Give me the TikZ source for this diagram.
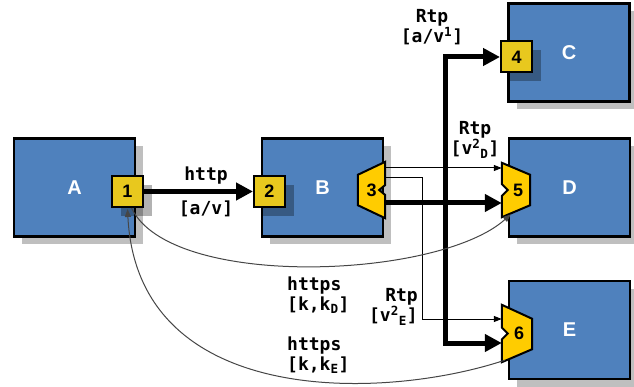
\documentclass[tikz,border=0pt]{standalone}
\usepackage{fontspec}
\setmainfont{Liberation Sans}
\newfontfamily\lblmono{DejaVu Sans Mono}
\usetikzlibrary{arrows.meta,calc}
\definecolor{boxblue}{RGB}{79,129,189}
\definecolor{portyel}{RGB}{232,200,30}
\definecolor{portgold}{RGB}{255,204,0}
\definecolor{curvegray}{RGB}{70,70,70}
\begin{document}
\begin{tikzpicture}[x=1pt,y=-1pt,
  box/.style={draw=black, line width=2.5pt, fill=boxblue, minimum width=121pt, minimum height=98pt,
    inner sep=0pt, text=white, font=\fontsize{20}{24}\selectfont\bfseries,
    preaction={draw=none, fill=black!25, transform canvas={shift={(8pt,-8pt)}}}},
  port/.style={draw=black, line width=2pt, fill=portyel, minimum width=31pt, minimum height=31pt,
    inner sep=0pt, font=\fontsize{18}{20}\selectfont\bfseries,
    preaction={draw=none, fill=black, fill opacity=0.3, transform canvas={shift={(9pt,-9pt)}}}},
  tport/.style={draw=none, inner sep=0pt},
  tshape/.style={draw=black, line width=2pt, fill=portgold, line join=miter},
  pnum/.style={inner sep=0pt, font=\fontsize{18}{20}\selectfont\bfseries},
  thk/.style={draw=black, line width=5pt},
  thkarr/.style={thk, -{Triangle[length=17pt,width=17pt]}},
  thinarr/.style={draw=black, line width=1pt, -{Triangle[length=8pt,width=6pt]}},
  crv/.style={draw=curvegray, line width=1pt, -{Triangle[length=8pt,width=6pt]}},
  lbl/.style={inner sep=0pt, font=\lblmono\bfseries\fontsize{18}{20}\selectfont}
]
\useasboundingbox (0,0) rectangle (634,387);

% boxes
\node[box] (A) at (74.5,187.5) {A};
\node[box] (B) at (322.5,187.5) {B};
\node[box] (C) at (569,52.5) {C};
\node[box] (D) at (569.5,187.5) {D};
\node[box] (E) at (569.5,330) {E};

% square ports
\node[port] (p1) at (127.5,191.5) {1};
\node[port] (p2) at (269.5,191.5) {2};
\node[port] (p4) at (516.5,57) {4};

% trapezoid ports
\node[tport, minimum width=27pt, minimum height=56pt] (p3) at (371.5,190) {};
\node[tport, minimum width=28pt, minimum height=54pt] (p5) at (516,190) {};
\node[tport, minimum width=30pt, minimum height=57pt] (p6) at (517,333.5) {};

\draw[tshape] (p3.north east) -- ($(p3.east)+(0,-5)$) -- ($(p3.east)+(-6,0)$) -- ($(p3.east)+(0,5)$)
  -- (p3.south east) -- ($(p3.south west)+(0,-13)$) -- ($(p3.north west)+(0,13)$) -- cycle;
\draw[tshape] (p5.north west) -- ($(p5.north east)+(0,12)$) -- ($(p5.south east)+(0,-12)$)
  -- (p5.south west) -- ($(p5.west)+(0,6)$) -- ($(p5.west)+(6,0)$) -- ($(p5.west)+(0,-6)$) -- cycle;
\draw[tshape] (p6.north west) -- ($(p6.north east)+(0,14)$) -- ($(p6.south east)+(0,-13)$)
  -- (p6.south west) -- ($(p6.west)+(0,6)$) -- ($(p6.west)+(6,0)$) -- ($(p6.west)+(0,-6)$) -- cycle;

\node[pnum] (n3) at (p3) {3};
\node[pnum] (n5) at ($(p5)+(2,0)$) {5};
\node[pnum] (n6) at ($(p6)+(2,0)$) {6};

% thick connectors
\draw[thkarr] (p1.east) -- (p2.west);
\coordinate (j) at (445,203);
\coordinate (k) at (422,178);
\draw[thkarr] ($(p3.east)+(0,13)$) -- (j) -- (j -| p5.west);
\draw[thkarr] (j) |- (p4.west);
\draw[thkarr] (j) |- ($(p6.west)+(0,9.5)$);

% thin connectors
\draw[thinarr] ($(p3.east)+(0,-22)$) -- ($(p5.west)+(0,-22)$);
\draw[thinarr] ($(p3.east)+(0,-12)$) -- (k) |- ($(p6.west)+(0,-14.5)$);

% curves
\draw[crv] ($(p1.south)+(4,0)$) .. controls +(39,82) and +(-72,65) .. ($(p5.south west)+(9,-3)$);
\draw[crv] ($(p6.south west)+(3,-2)$) .. controls +(-120,40) and +(10,200) .. ($(p1.south)+(0,1)$);

% labels
\node[lbl] (l1) at (206,176) {http};
\node[lbl] (l2) at (206,209) {[a/v]};
\node[lbl, align=center] (l3) at (432,27) {Rtp\\{}[a/v\textsuperscript{1}]};
\node[lbl, align=center] (l4) at (475,140) {Rtp\\{}[v\textsuperscript{2}\textsubscript{D}]};
\node[lbl, align=left, anchor=west] (l5) at (287,295) {https\\{}[k,k\textsubscript{D}]};
\node[lbl, align=right, anchor=east] (l6) at (418,307) {Rtp\\{}[v\textsuperscript{2}\textsubscript{E}]};
\node[lbl, align=left, anchor=west] (l7) at (287,355) {https\\{}[k,k\textsubscript{E}]};
\end{tikzpicture}
\end{document}
